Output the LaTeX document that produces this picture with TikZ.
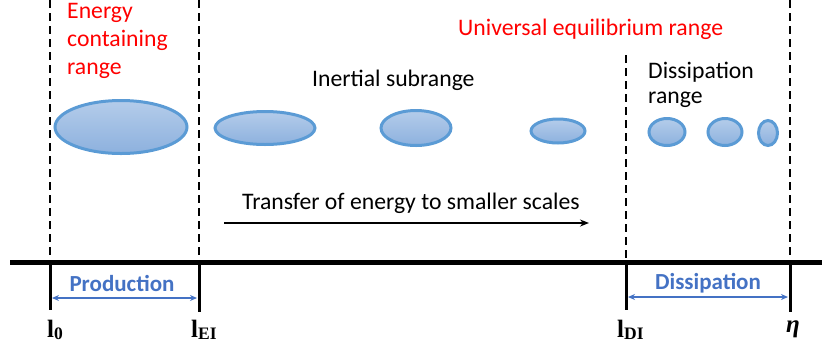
\documentclass[tikz,border=0pt]{standalone}
\usepackage{fontspec}
\setmainfont{Carlito}
\newfontfamily\serifb{Liberation Serif}
\usetikzlibrary{shapes.geometric,arrows.meta}
\definecolor{eddyline}{HTML}{5B9BD5}
\definecolor{eddytop}{HTML}{B4CCEA}
\definecolor{eddybot}{HTML}{8DB1DE}
\definecolor{lblblue}{HTML}{4472C4}
\definecolor{rangered}{HTML}{FF0000}
\tikzset{
  eddy/.style={ellipse, draw=eddyline, line width=3pt, top color=eddytop, bottom color=eddybot, inner sep=0pt},
  divider/.style={dashed, dash pattern=on 8pt off 5pt, line width=1.8pt},
  tick/.style={line width=3pt},
  axis/.style={line width=5pt},
  txt/.style={font=\fontsize{23.7}{28}\selectfont, inner sep=0pt},
  redtxt/.style={txt, text=rangered, align=left},
  bluebold/.style={font=\fontsize{23}{26}\selectfont\bfseries, text=lblblue, inner sep=0pt},
  scalelbl/.style={font=\fontsize{25}{26}\selectfont\serifb\bfseries, inner sep=0pt, anchor=base west},
  span/.style={{Stealth[length=7pt,width=6pt]}-{Stealth[length=7pt,width=6pt]}, lblblue, line width=1.4pt}
}
\newcommand{\lowsub}[1]{\raisebox{-2pt}{\fontsize{17.5}{18}\selectfont #1}}
\begin{document}
\begin{tikzpicture}[x=1pt,y=-1pt]
\useasboundingbox (0,0) rectangle (822,349);
% dividers
\coordinate (d1t) at (50,0);   \coordinate (d1b) at (50,262);
\coordinate (d2t) at (199,0);  \coordinate (d2b) at (199,262);
\coordinate (d3t) at (626,55); \coordinate (d3b) at (626,262);
\coordinate (d4t) at (790,0);  \coordinate (d4b) at (790,262);
\draw[divider] (d1t) -- (d1b);
\draw[divider] (d2t) -- (d2b);
\draw[divider] (d3t) -- (d3b);
\draw[divider] (d4t) -- (d4b);
% axis
\coordinate (axl) at (10,262); \coordinate (axr) at (822,262);
\draw[axis] (axl) -- (axr);
\coordinate (t1) at (50,310);  \coordinate (t2) at (199,312);
\coordinate (t3) at (626,310); \coordinate (t4) at (790,312);
\draw[tick] (d1b) -- (t1);
\draw[tick] (d2b) -- (t2);
\draw[tick] (d3b) -- (t3);
\draw[tick] (d4b) -- (t4);
% spans
\coordinate (p1) at (52,298); \coordinate (p2) at (197,298);
\coordinate (q1) at (628,297); \coordinate (q2) at (788,297);
\draw[span] (p1) -- (p2);
\draw[span] (q1) -- (q2);
\node[bluebold] (prod) at (122,283) {Production};
\node[bluebold] (diss) at (708,283) {Dissipation};
% scale labels
\node[scalelbl] (l0) at (47,337) {l\lowsub{0}};
\node[scalelbl] (lei) at (191,337) {l\lowsub{EI}};
\node[scalelbl] (ldi) at (617,337) {l\lowsub{DI}};
\node[scalelbl, font=\fontsize{25}{26}\selectfont\serifb\bfseries\itshape] (eta) at (786,332) {η};
% range texts
\node[redtxt, anchor=base west] (ecr) at (67,74) {Energy\\containing\\range};
\node[redtxt, anchor=base west] (uer) at (458,35) {Universal equilibrium range};
\node[txt, anchor=base west] (isr) at (312,86) {Inertial subrange};
\node[txt, anchor=base west, align=left, font=\fontsize{23.7}{25}\selectfont] (dr) at (648,103) {Dissipation\\range};
% eddies
\node[eddy, minimum width=132pt, minimum height=53pt] (e1) at (121,127) {};
\node[eddy, minimum width=100pt, minimum height=33pt] (e2) at (265,128) {};
\node[eddy, minimum width=70pt, minimum height=35pt] (e3) at (416,128) {};
\node[eddy, minimum width=54pt, minimum height=24pt] (e4) at (558,131) {};
\node[eddy, minimum width=36pt, minimum height=27pt] (e5) at (667,132) {};
\node[eddy, minimum width=34pt, minimum height=27pt] (e6) at (725,132) {};
\node[eddy, minimum width=19pt, minimum height=25pt] (e7) at (768,133) {};
% transfer arrow
\node[txt, anchor=base west] (tr) at (242,209) {Transfer of energy to smaller scales};
\coordinate (a1) at (224,223); \coordinate (a2) at (589,223);
\draw[-{Stealth[length=9pt,width=7pt]}, line width=1.8pt] (a1) -- (a2);
\end{tikzpicture}
\end{document}
